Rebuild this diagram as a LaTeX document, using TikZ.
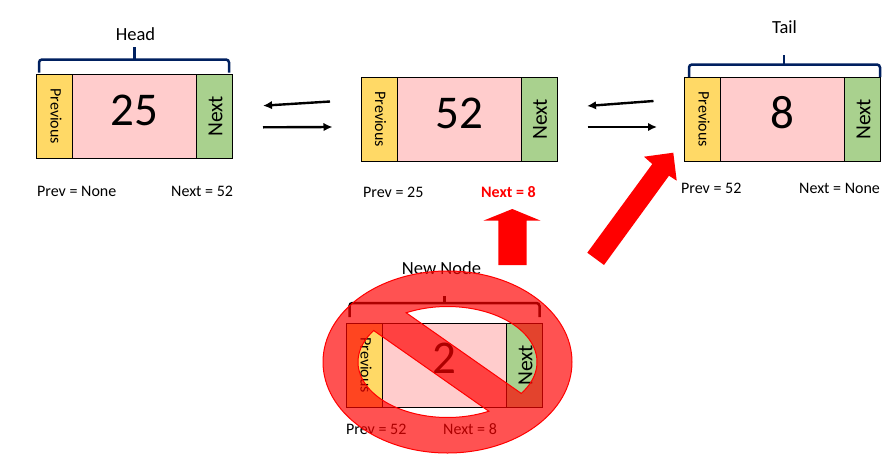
\documentclass[tikz,border=0pt]{standalone}
\usepackage{fontspec}
\setmainfont{Carlito}
\usetikzlibrary{arrows.meta}
\definecolor{prevc}{HTML}{FFD966}
\definecolor{datac}{HTML}{FFCCCC}
\definecolor{nextc}{HTML}{A9D18E}
\definecolor{navy}{HTML}{002060}
\tikzset{
 cell/.style={draw=black,line width=1pt,minimum height=84.5pt,inner sep=0pt,outer sep=0pt,anchor=north west},
 prevcell/.style={cell,fill=prevc,minimum width=36pt},
 datacell/.style={cell,fill=datac,minimum width=124pt},
 nextcell/.style={cell,fill=nextc,minimum width=36pt},
 prevlabel/.style={rotate=-90,font=\fontsize{16}{16}\selectfont,inner sep=0pt},
 nextlabel/.style={rotate=90,font=\fontsize{21.5}{22}\selectfont,inner sep=0pt},
 valuelabel/.style={font=\fontsize{47}{47}\selectfont,inner sep=0pt},
 caption/.style={font=\fontsize{16}{16}\selectfont,inner sep=0pt,anchor=base west},
 title/.style={font=\fontsize{18.5}{18}\selectfont,inner sep=0pt,anchor=base},
 bracket/.style={line width=2.5pt,rounded corners=3pt},
 peak/.style={line width=2.5pt},
 link/.style={line width=2.4pt,-{Latex[length=9pt,width=8.5pt]}},
 block/.style={fill=red,draw=none},
}
\begin{document}
\begin{tikzpicture}[x=1pt,y=-1pt]
\path[use as bounding box,fill=white] (0,0) rectangle (889,458);
% head
\node[prevcell] (p1) at (36.5,74) {};
\node[datacell] (d1) at (72.5,74) {};
\node[nextcell] (n1) at (196.5,74) {};
\node[prevlabel] at ([xshift=1.5pt]p1.center) {Previous};
\node[nextlabel] at ([xshift=1pt]n1.center) {Next};
\node[valuelabel] (v1) at (134.5,110) {25};
% middle
\node[prevcell] (p2) at (361,77) {};
\node[datacell] (d2) at (397,77) {};
\node[nextcell] (n2) at (521,77) {};
\node[prevlabel] at ([xshift=1.5pt]p2.center) {Previous};
\node[nextlabel] at ([xshift=1pt]n2.center) {Next};
\node[valuelabel] (v2) at (459.5,113) {52};
% tail
\node[prevcell] (p3) at (684.5,77) {};
\node[datacell] (d3) at (720.5,77) {};
\node[nextcell] (n3) at (844.5,77) {};
\node[prevlabel] at ([xshift=1.5pt]p3.center) {Previous};
\node[nextlabel] at ([xshift=1pt]n3.center) {Next};
\node[valuelabel] (v3) at (782.5,113) {8};
% new
\node[prevcell] (p4) at (346.5,323) {};
\node[datacell] (d4) at (382.5,323) {};
\node[nextcell] (n4) at (506.5,323) {};
\node[prevlabel] at ([xshift=1.5pt]p4.center) {Previous};
\node[nextlabel] at ([xshift=1pt]n4.center) {Next};
\node[valuelabel] (v4) at (444,358.5) {2};
% captions
\node[caption] (c1) at (37,196) {Prev = None};
\node[caption] (c2) at (171,196) {Next = 52};
\node[caption] (c3) at (363,197) {Prev = 25};
\node[caption,text=red,font=\fontsize{16}{16}\selectfont\bfseries] (c4) at (481,197) {Next = 8};
\node[caption] (c5) at (681,193) {Prev = 52};
\node[caption] (c6) at (799,193) {Next = None};
\node[caption] (c7) at (346,434) {Prev = 52};
\node[caption] (c8) at (443,434) {Next = 8};
% titles
\node[title] (t1) at (135.5,40) {Head};
\node[title] (t2) at (784.5,33) {Tail};
\node[title] (t3) at (441.5,274) {New Node};
% brackets
\draw[bracket,navy] (39,72.5) -- (39,59.5) -- (134,59.5) (229,72.5) -- (229,59.5) -- (134,59.5);
\draw[peak,navy] (134.3,59) -- (134.3,47);
\draw[bracket,navy] (689,77) -- (689,64.5) -- (784,64.5) (880,77) -- (880,64.5) -- (784,64.5);
\draw[peak,navy] (784,64) -- (784,55);
\draw[bracket,black] (349.5,317) -- (349.5,303) -- (444,303) (539.5,317) -- (539.5,303) -- (444,303);
\draw[peak,black] (444.3,303) -- (444.3,296);
% links
\coordinate (a1s) at (330,101.5); \coordinate (a1e) at (263,105.7);
\coordinate (a2s) at (263,127.3); \coordinate (a2e) at (332.5,127);
\coordinate (a3s) at (653.5,101); \coordinate (a3e) at (587,106);
\coordinate (a4s) at (587.5,127); \coordinate (a4e) at (657,127);
\draw[link] (a1s) -- (a1e);
\draw[link] (a2s) -- (a2e);
\draw[link] (a3s) -- (a3e);
\draw[link] (a4s) -- (a4e);
% red block arrows
\fill[block] (498.3,265) -- (498.3,220.7) -- (483.3,220.7) -- (512.3,209) -- (540.7,220.7) -- (526.7,220.7) -- (526.7,265) -- cycle;
\fill[block] (587.3,252.7) -- (652.3,164) -- (644,156.7) -- (673.3,152.7) -- (676.7,180.7) -- (669,175.7) -- (604,265) -- cycle;
% prohibition sign
\path[fill=red,fill opacity=.68,draw=red,line width=1pt,even odd rule]
  (447.5,362) ellipse [x radius=124.5,y radius=91]
  plot[domain=-117.5:34.5,samples=60] ({447.5+89.5*cos(\x)},{362+55.5*sin(\x)}) -- cycle
  plot[domain=62.5:214.5,samples=60] ({447.5+89.5*cos(\x)},{362+55.5*sin(\x)}) -- cycle;
\end{tikzpicture}
\end{document}
